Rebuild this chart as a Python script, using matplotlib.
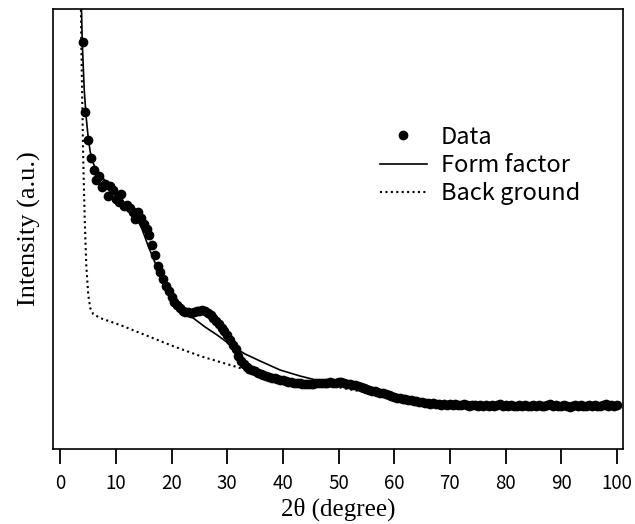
import matplotlib
matplotlib.use("Agg")
import matplotlib.pyplot as plt
import numpy as np

# Données mesurées (2theta en degrés, pas de 0.5 à partir de 4)
angle_debut = 4.0
pas_angle = 0.5
intensite = [
    4.07, 3.37, 3.09, 2.91, 2.79, 2.69, 2.73, 2.62, 2.65, 2.53,
    2.63, 2.59, 2.50, 2.47, 2.55, 2.43, 2.44, 2.41, 2.37, 2.30,
    2.37, 2.31, 2.25, 2.20, 2.14, 2.04, 1.94, 1.83, 1.77, 1.70,
    1.63, 1.58, 1.52, 1.47, 1.44, 1.41, 1.38, 1.37, 1.37, 1.36,
    1.37, 1.38, 1.38, 1.39, 1.38, 1.36, 1.34, 1.31, 1.28, 1.25,
    1.21, 1.18, 1.14, 1.09, 1.04, 1.00, 0.93, 0.88, 0.85, 0.82,
    0.80, 0.79, 0.78, 0.76, 0.75, 0.74, 0.73, 0.72, 0.71, 0.71,
    0.70, 0.69, 0.69, 0.68, 0.67, 0.67, 0.66, 0.66, 0.66, 0.65,
    0.65, 0.65, 0.65, 0.65, 0.66, 0.66, 0.66, 0.66, 0.66, 0.67,
    0.66, 0.66, 0.67, 0.67, 0.66, 0.65, 0.65, 0.64, 0.64, 0.63,
    0.62, 0.61, 0.60, 0.59, 0.58, 0.58, 0.57, 0.56, 0.56, 0.55,
    0.54, 0.53, 0.52, 0.51, 0.51, 0.50, 0.50, 0.49, 0.49, 0.48,
    0.48, 0.47, 0.47, 0.46, 0.46, 0.45, 0.46, 0.45, 0.45, 0.44,
    0.45, 0.44, 0.45, 0.44, 0.45, 0.44, 0.44, 0.45, 0.44, 0.43,
    0.44, 0.44, 0.43, 0.44, 0.43, 0.44, 0.43, 0.44, 0.43, 0.44,
    0.45, 0.43, 0.44, 0.43, 0.44, 0.43, 0.43, 0.44, 0.43, 0.44,
    0.43, 0.43, 0.44, 0.43, 0.44, 0.43, 0.43, 0.44, 0.45, 0.43,
    0.44, 0.43, 0.43, 0.44, 0.43, 0.42, 0.43, 0.44, 0.43, 0.44,
    0.43, 0.43, 0.44, 0.43, 0.44, 0.43, 0.43, 0.44, 0.45, 0.43,
    0.44, 0.43, 0.44,
]
angles = angle_debut + pas_angle * np.arange(len(intensite))

# Courbe du facteur de forme
angles_forme = [3.65, 3.95, 4.31, 4.67, 5.03, 5.39, 5.92, 6.46, 7.49, 8.44,
                9.52, 10.77, 12.03, 13.11, 13.82, 14.54, 15.08, 15.80, 17.06,
                18.49, 19.75, 21.54, 23.88, 26.03, 28.19, 30.88, 33.21, 35.91,
                39.50, 43.09, 46.68, 50.27, 53.86, 57.99, 60.68, 64.63, 70.02,
                79.0, 100.0]
intensite_forme = [4.8, 4.07, 3.59, 3.31, 3.11, 2.97, 2.86, 2.79, 2.72, 2.66,
                   2.59, 2.51, 2.42, 2.35, 2.29, 2.22, 2.14, 2.03, 1.86,
                   1.67, 1.52, 1.40, 1.31, 1.22, 1.14, 1.03, 0.95, 0.88,
                   0.79, 0.73, 0.68, 0.65, 0.61, 0.56, 0.52, 0.48, 0.46,
                   0.45, 0.44]

# Fond (ligne pointillée)
angles_fond = [3.65, 3.77, 3.95, 4.13, 4.40, 4.67, 5.03, 5.39, 5.92, 7.18,
               10.77, 16.16, 19.75, 25.13, 34.11, 43.09, 49.73, 55.66, 60.50,
               66.43, 79.0, 100.0]
intensite_fond = [4.8, 4.09, 3.49, 2.89, 2.29, 1.84, 1.54, 1.41, 1.35, 1.31,
                  1.24, 1.12, 1.04, 0.93, 0.78, 0.67, 0.62, 0.56, 0.49,
                  0.45, 0.43, 0.42]

ticks_x = list(range(0, 101, 10))

police_gothique = ['Noto Sans CJK JP', 'DejaVu Sans']
police_serif = ['Liberation Serif', 'DejaVu Serif']

fig = plt.figure(figsize=(6.35, 5.24), dpi=100)
ax = fig.add_axes([0.0835, 0.1431, 0.8975, 0.8397])

ax.plot(angles, intensite, 'o', color='black', markersize=6.0, label='Data', zorder=3)
ax.plot(angles_forme, intensite_forme, '-', color='black', linewidth=1.2, label='Form factor')
ax.plot(angles_fond, intensite_fond, color='black', linewidth=1.5,
        linestyle=(0, (1.0, 1.6)), label='Back ground')

ax.set_xlim(-1.3, 101.1)
ax.set_ylim(0, 4.40)

# Axes : pas de graduation en y, graduations vers l'extérieur en x
ax.set_yticks([])
ax.set_xticks(ticks_x)
ax.tick_params(axis='x', direction='out', length=10.5, width=1.3, pad=7, labelsize=13.5)
for lab in ax.get_xticklabels():
    lab.set_family(police_gothique)
for sp in ax.spines.values():
    sp.set_linewidth(1.2)

ax.set_xlabel('2θ (degree)', family=police_serif, fontsize=18, labelpad=2)
ax.set_ylabel('Intensity (a.u.)', family=police_serif, fontsize=19, labelpad=9)

leg = ax.legend(loc='upper left', bbox_to_anchor=(0.573, 0.735), frameon=False,
                prop={'family': police_gothique, 'size': 17},
                handlelength=2.0, handletextpad=0.6, labelspacing=0.22,
                borderpad=0, borderaxespad=0)

fig.savefig('out.png', dpi=100)
